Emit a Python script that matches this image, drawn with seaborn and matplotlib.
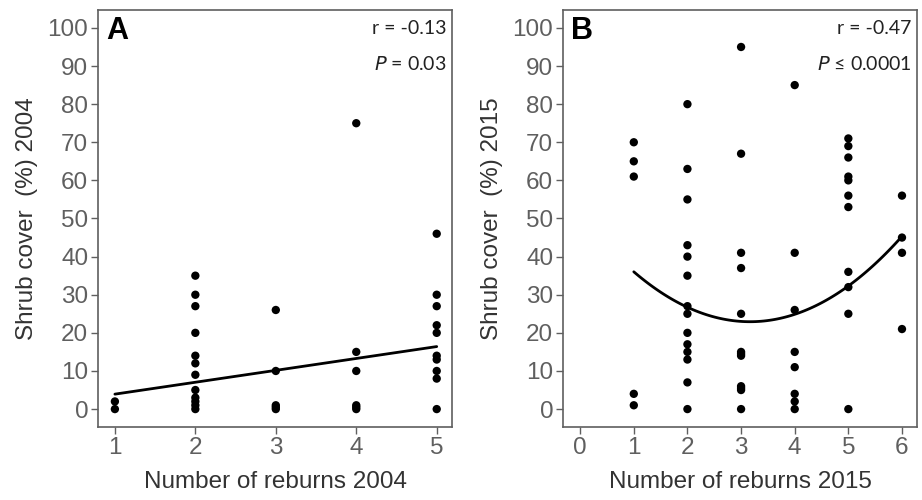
import numpy as np
import pandas as pd
import matplotlib
matplotlib.use("Agg")
import matplotlib.pyplot as plt
import seaborn as sns
from matplotlib import font_manager

# ---- data ----
reburns_2004 = [1, 1,
                2, 2, 2, 2, 2, 2, 2, 2, 2, 2, 2, 2,
                3, 3, 3, 3, 3,
                4, 4, 4, 4, 4, 4,
                5, 5, 5, 5, 5, 5, 5, 5, 5, 5]
cover_2004 = [2, 0,
              35, 30, 27, 20, 14, 12, 9, 5, 3, 2, 1, 0,
              26, 10, 1, 0.5, 0,
              75, 15, 10, 1, 0.5, 0,
              46, 30, 27, 22, 20, 14, 13, 10, 8, 0]

reburns_2015 = [1, 1, 1, 1, 1,
                2, 2, 2, 2, 2, 2, 2, 2, 2, 2, 2, 2, 2, 2,
                3, 3, 3, 3, 3, 3, 3, 3, 3, 3, 3, 3,
                4, 4, 4, 4, 4, 4, 4, 4,
                5, 5, 5, 5, 5, 5, 5, 5, 5, 5, 5,
                6, 6, 6, 6]
cover_2015 = [70, 65, 61, 4, 1,
              80, 63, 55, 43, 40, 35, 27, 25, 20, 17, 15, 13, 7, 0,
              95, 67, 41, 37, 25, 15, 14.5, 14, 6, 5.5, 5, 0,
              85, 41, 26, 15, 11, 4, 2, 0,
              71, 69, 66, 61, 60, 56, 53, 36, 32, 25, 0,
              56, 45, 41, 21]

# fitted trend coefficients
fit_2004 = [0.8, 3.12]             # intercept, slope
fit_2015 = [50.9, -17.67, 2.79]    # a + b x + c x^2

yticks = [0, 10, 20, 30, 40, 50, 60, 70, 80, 90, 100]
xticks_a = [1, 2, 3, 4, 5]
xticks_b = [0, 1, 2, 3, 4, 5, 6]

sns.set_theme(style="white")
names = {f.name for f in font_manager.fontManager.ttflist}
narrow = "Liberation Sans Narrow" if "Liberation Sans Narrow" in names else "Liberation Sans"
plt.rcParams["font.family"] = [narrow, "DejaVu Sans"]

df_a = pd.DataFrame({"x": reburns_2004, "y": cover_2004})
df_b = pd.DataFrame({"x": reburns_2015, "y": cover_2015})

xa = np.linspace(1, 5, 50)
ya = fit_2004[0] + fit_2004[1] * xa
xb = np.linspace(1, 6, 100)
yb = fit_2015[0] + fit_2015[1] * xb + fit_2015[2] * xb ** 2

fig = plt.figure(figsize=(9.22, 5.0), dpi=100)
ax_a = fig.add_axes([98 / 922, 1 - 427 / 500, 354 / 922, 417 / 500])
ax_b = fig.add_axes([563 / 922, 1 - 427 / 500, 354 / 922, 417 / 500])

grey = "#5f5f5f"
panels = [
    (ax_a, df_a, xa, ya, xticks_a, (0.79, 5.19), "Number of reburns 2004",
     "Shrub cover  (%) 2004", "A", "r = -0.13", r"$P$ = 0.03"),
    (ax_b, df_b, xb, yb, xticks_b, (-0.32, 6.28), "Number of reburns 2015",
     "Shrub cover  (%) 2015", "B", "r = -0.47", r"$P$ ≤ 0.0001"),
]

for ax, df, fx, fy, xt, xl, xlab, ylab, letter, rtxt, ptxt in panels:
    sns.scatterplot(data=df, x="x", y="y", ax=ax, color="black", s=36,
                    edgecolor="none", zorder=3)
    sns.lineplot(x=fx, y=fy, ax=ax, color="black", linewidth=2.0, zorder=2)
    ax.set_xlim(*xl)
    ax.set_ylim(-4.7, 104.7)
    ax.set_xticks(xt)
    ax.set_yticks(yticks)
    ax.set_xticklabels([str(v) for v in xt])
    ax.set_yticklabels([str(v) for v in yticks])
    ax.tick_params(axis="both", which="major", direction="out", length=5,
                   width=1, color=grey, labelcolor=grey, labelsize=17.5, pad=2,
                   bottom=True, left=True)
    for sp in ax.spines.values():
        sp.set_color(grey)
        sp.set_linewidth(1.2)
    ax.set_xlabel(xlab, fontsize=17.5, color="#333333", labelpad=9)
    ax.set_ylabel(ylab, fontsize=17.5, color="#333333", labelpad=7)
    ax.text(0.022, 0.985, letter, transform=ax.transAxes, ha="left", va="top",
            fontsize=22, fontweight="bold", family=["Liberation Sans", "DejaVu Sans"],
            color="black")
    ax.text(0.985, 0.975, rtxt, transform=ax.transAxes, ha="right", va="top",
            fontsize=14, family=["Lato", "DejaVu Sans"], color="#222222")
    ax.text(0.985, 0.893, ptxt, transform=ax.transAxes, ha="right", va="top",
            fontsize=14, family=["Lato", "DejaVu Sans"], color="#222222")

fig.savefig("out.png", dpi=100, facecolor="white")
